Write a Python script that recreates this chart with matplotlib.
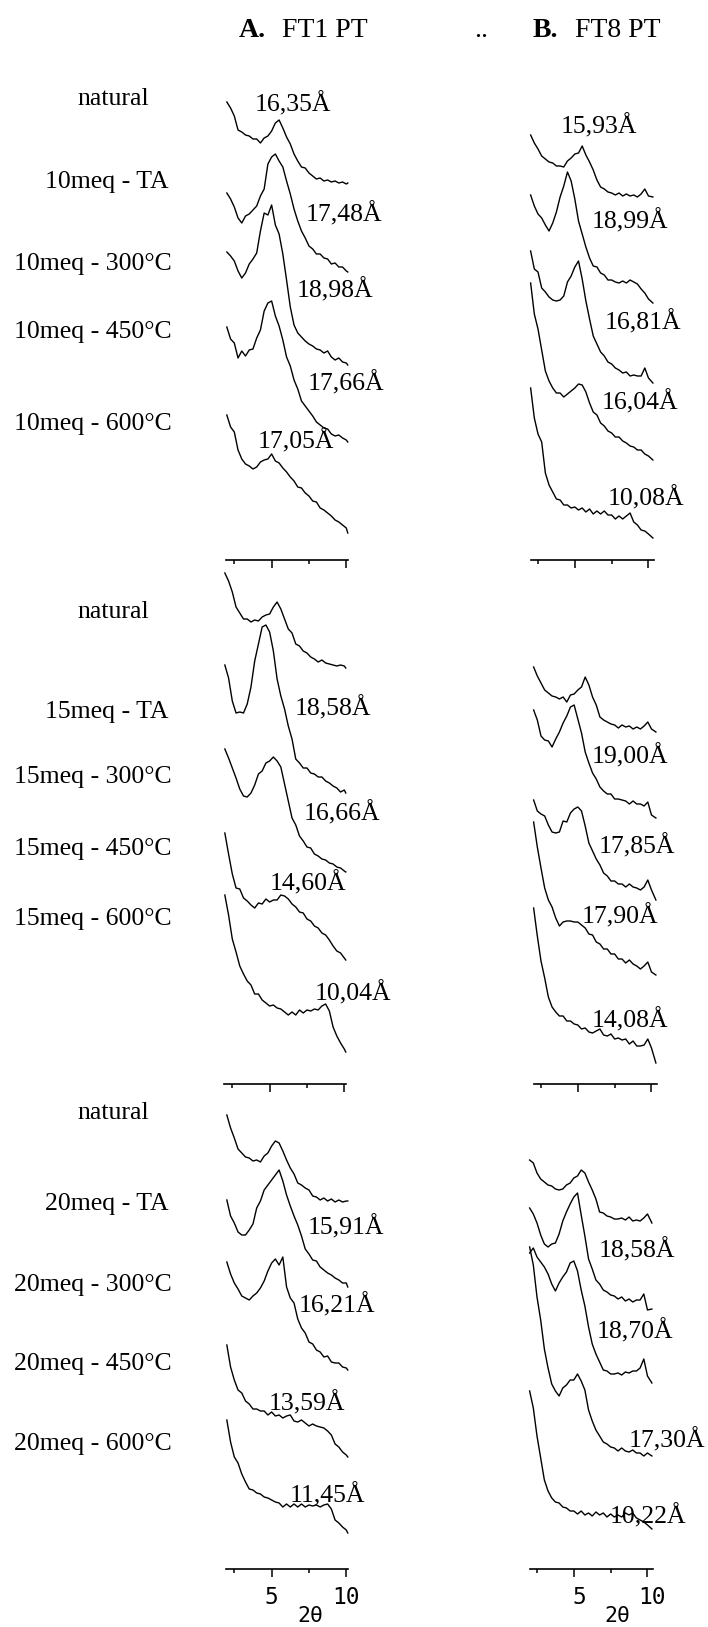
import numpy as np
import matplotlib
matplotlib.use("Agg")
import matplotlib.pyplot as plt
import matplotlib.transforms as mtransforms

# 2-theta sampling of the traced patterns (degrees)
two_theta_ft1 = [2.0, 2.25, 2.5, 2.75, 3.0, 3.25, 3.5, 3.75, 4.0, 4.25, 4.5, 4.75,
                 5.0, 5.25, 5.5, 5.75, 6.0, 6.25, 6.5, 6.75, 7.0, 7.25, 7.5, 7.75,
                 8.0, 8.25, 8.5, 8.75, 9.0, 9.25, 9.5, 9.75, 10.0, 10.1]
two_theta_ft8 = [2.0, 2.25, 2.5, 2.75, 3.0, 3.25, 3.5, 3.75, 4.0, 4.25, 4.5, 4.75,
                 5.0, 5.25, 5.5, 5.75, 6.0, 6.25, 6.5, 6.75, 7.0, 7.25, 7.5, 7.75,
                 8.0, 8.25, 8.5, 8.75, 9.0, 9.25, 9.5, 9.75, 10.0, 10.3]

# intensities (arbitrary units), FT1 PT, 10 meq
ft1_10_nat = [82, 76, 68, 54, 52, 49, 48, 45, 45, 41, 46, 48, 53, 61, 64, 56, 47, 40, 30, 23, 17, 16, 11, 8, 5, 6, 3, 4, 2, 3, 1, 2, 0, 1]
ft1_10_ta = [79, 73, 65, 54, 49, 56, 58, 62, 66, 76, 83, 108, 115, 118, 111, 105, 91, 78, 63, 51, 41, 34, 26, 23, 18, 18, 14, 13, 8, 9, 5, 5, 1, 0]
ft1_10_300 = [113, 109, 104, 94, 87, 92, 101, 106, 112, 134, 152, 150, 160, 140, 131, 111, 85, 58, 40, 32, 28, 24, 21, 19, 16, 15, 12, 14, 8, 5, 7, 3, 2, 0]
ft1_10_450 = [115, 103, 99, 84, 91, 86, 92, 93, 104, 112, 131, 139, 141, 126, 116, 102, 85, 76, 62, 53, 41, 36, 31, 26, 20, 17, 14, 13, 8, 6, 7, 4, 2, 0]
ft1_10_600 = [118, 106, 101, 83, 74, 69, 67, 64, 66, 71, 73, 74, 79, 72, 70, 65, 61, 56, 52, 46, 45, 40, 37, 32, 31, 25, 23, 20, 17, 13, 11, 8, 5, 0]

# FT8 PT, 10 meq
ft8_10_nat = [62, 54, 48, 41, 38, 35, 34, 31, 31, 30, 36, 39, 43, 44, 51, 42, 35, 27, 17, 10, 8, 5, 4, 2, 4, 1, 3, 1, 2, 0, 3, 8, 1, 0]
ft8_10_ta = [108, 97, 89, 85, 78, 72, 80, 91, 106, 117, 131, 122, 104, 82, 69, 56, 45, 37, 36, 30, 28, 23, 23, 21, 20, 22, 20, 23, 21, 19, 14, 10, 4, 0]
ft8_10_300 = [132, 114, 111, 95, 91, 86, 83, 82, 83, 87, 101, 107, 116, 122, 104, 82, 64, 47, 39, 31, 27, 21, 19, 15, 13, 10, 11, 7, 8, 7, 7, 15, 5, 0]
ft8_10_450 = [177, 146, 131, 110, 89, 79, 72, 67, 67, 63, 66, 69, 72, 76, 75, 68, 57, 48, 45, 37, 34, 29, 27, 23, 23, 19, 17, 14, 13, 10, 10, 6, 4, 0]
ft8_10_600 = [150, 120, 104, 96, 65, 53, 46, 39, 38, 33, 33, 30, 31, 28, 30, 26, 29, 24, 27, 24, 27, 23, 23, 19, 22, 19, 22, 25, 16, 13, 8, 7, 4, 0]

# FT1 PT, 15 meq
ft1_15_nat = [95, 87, 76, 61, 55, 49, 49, 46, 48, 47, 51, 53, 54, 61, 66, 59, 49, 39, 35, 24, 22, 17, 15, 11, 9, 6, 8, 5, 4, 3, 2, 3, 2, 0]
ft1_15_ta = [128, 115, 92, 80, 81, 80, 89, 106, 132, 149, 166, 168, 161, 142, 114, 97, 84, 67, 54, 34, 30, 25, 25, 20, 19, 16, 16, 12, 10, 7, 5, 1, 3, 0]
ft1_15_300 = [123, 114, 104, 94, 83, 76, 75, 79, 87, 98, 101, 109, 111, 115, 111, 105, 88, 71, 54, 47, 36, 31, 25, 24, 18, 16, 13, 12, 9, 8, 5, 4, 1, 0]
ft1_15_450 = [127, 106, 86, 72, 71, 62, 59, 55, 52, 57, 56, 61, 58, 60, 60, 65, 64, 61, 56, 53, 48, 47, 41, 39, 34, 32, 27, 25, 20, 14, 9, 7, 2, 0]
ft1_15_600 = [157, 137, 113, 100, 86, 78, 71, 67, 58, 58, 52, 49, 46, 47, 44, 43, 40, 37, 40, 37, 42, 39, 42, 41, 43, 42, 46, 48, 41, 25, 16, 9, 3, 0]

# FT8 PT, 15 meq
ft8_15_nat = [65, 56, 49, 42, 39, 36, 35, 33, 35, 30, 37, 38, 42, 45, 55, 47, 35, 27, 15, 12, 10, 8, 7, 4, 7, 5, 6, 3, 5, 3, 6, 10, 3, 0]
ft8_15_ta = [108, 98, 82, 78, 77, 71, 79, 86, 95, 102, 111, 113, 99, 85, 66, 55, 45, 39, 31, 27, 24, 24, 19, 19, 18, 17, 14, 17, 14, 14, 12, 16, 3, 0]
ft8_15_300 = [100, 89, 86, 84, 75, 68, 67, 68, 79, 78, 87, 91, 93, 89, 74, 57, 49, 41, 35, 27, 24, 19, 19, 16, 16, 13, 16, 13, 12, 10, 13, 20, 10, 0]
ft8_15_450 = [153, 128, 107, 87, 75, 68, 57, 49, 53, 54, 54, 53, 53, 50, 47, 41, 40, 33, 31, 26, 26, 21, 21, 16, 16, 12, 15, 11, 9, 6, 9, 13, 3, 0]
ft8_15_600 = [155, 127, 102, 85, 66, 56, 51, 47, 47, 42, 42, 39, 38, 34, 35, 31, 30, 32, 34, 28, 27, 29, 24, 25, 23, 24, 19, 22, 17, 17, 18, 24, 15, 0]

# FT1 PT, 20 meq
ft1_20_nat = [87, 74, 64, 53, 49, 45, 44, 41, 42, 40, 46, 49, 56, 61, 59, 51, 42, 34, 28, 19, 17, 14, 12, 6, 5, 2, 4, 1, 3, 0, 2, 0, 1, 1]
ft1_20_ta = [87, 71, 64, 55, 52, 52, 57, 63, 79, 86, 97, 102, 107, 112, 117, 106, 92, 81, 71, 62, 51, 38, 33, 27, 26, 20, 17, 14, 12, 9, 7, 4, 4, 0]
ft1_20_300 = [108, 96, 87, 81, 74, 72, 70, 74, 77, 82, 89, 99, 107, 111, 105, 113, 83, 72, 67, 51, 42, 37, 28, 26, 20, 18, 13, 14, 8, 7, 7, 3, 2, 0]
ft1_20_450 = [112, 90, 77, 67, 64, 56, 53, 48, 48, 46, 46, 42, 45, 41, 42, 39, 41, 42, 36, 35, 37, 34, 31, 33, 31, 30, 29, 26, 22, 13, 10, 5, 2, 0]
ft1_20_600 = [113, 91, 76, 70, 59, 51, 44, 43, 40, 39, 36, 35, 33, 31, 30, 26, 29, 26, 29, 26, 29, 26, 28, 27, 28, 26, 28, 29, 24, 13, 10, 6, 3, 0]

# FT8 PT, 20 meq
ft8_20_nat = [63, 60, 50, 44, 41, 38, 37, 34, 33, 34, 38, 40, 45, 47, 53, 50, 41, 33, 24, 11, 10, 7, 6, 4, 4, 5, 3, 6, 2, 3, 2, 5, 9, 0]
ft8_20_ta = [102, 96, 87, 75, 66, 63, 66, 67, 76, 89, 98, 106, 113, 117, 95, 74, 51, 41, 30, 26, 20, 18, 15, 14, 11, 13, 9, 11, 8, 10, 10, 16, 0, 1]
ft8_20_300 = [130, 135, 126, 121, 116, 109, 99, 92, 100, 106, 111, 120, 122, 112, 93, 77, 56, 39, 29, 21, 13, 12, 9, 9, 10, 8, 11, 10, 12, 12, 15, 24, 7, 0]
ft8_20_450 = [209, 191, 159, 136, 107, 88, 72, 65, 60, 68, 71, 76, 76, 82, 75, 66, 46, 35, 26, 20, 14, 12, 9, 8, 5, 8, 5, 4, 6, 3, 3, 0, 3, 0]
ft8_20_600 = [138, 121, 93, 71, 49, 38, 31, 27, 26, 22, 21, 18, 18, 15, 18, 14, 16, 13, 17, 14, 16, 12, 15, 12, 14, 12, 16, 14, 16, 11, 9, 7, 4, 0]

rows_10 = ["natural", "10meq - TA", "10meq - 300°C", "10meq - 450°C", "10meq - 600°C"]
rows_15 = ["natural", "15meq - TA", "15meq - 300°C", "15meq - 450°C", "15meq - 600°C"]
rows_20 = ["natural", "20meq - TA", "20meq - 300°C", "20meq - 450°C", "20meq - 600°C"]

d_ft1_10 = ["16,35Å", "17,48Å", "18,98Å", "17,66Å", "17,05Å"]
d_ft8_10 = ["15,93Å", "18,99Å", "16,81Å", "16,04Å", "10,08Å"]
d_ft1_15 = ["18,58Å", "16,66Å", "14,60Å", "10,04Å"]
d_ft8_15 = ["19,00Å", "17,85Å", "17,90Å", "14,08Å"]
d_ft1_20 = ["15,91Å", "16,21Å", "13,59Å", "11,45Å"]
d_ft8_20 = ["18,58Å", "18,70Å", "17,30Å", "10,22Å"]

# ---- layout (pixels of the 708 x 1627 canvas) ----
W, H = 708, 1627
SERIF = ["Liberation Serif", "DejaVu Serif"]
MONO = ["DejaVu Sans Mono"]
FS = 18.5

fig = plt.figure(figsize=(W / 100, H / 100), dpi=100)

def fx(px):
    return px / W

def fy(py):
    return 1 - py / H

panels = [
    dict(axis_y=560, shift=(0, 0),
         curves=([ft1_10_nat, ft1_10_ta, ft1_10_300, ft1_10_450, ft1_10_600],
                 [ft8_10_nat, ft8_10_ta, ft8_10_300, ft8_10_450, ft8_10_600]),
         offsets=([376, 288, 195, 118, 27], [363, 257, 177, 100, 22]),
         rows=rows_10, row_y=[105, 188, 270, 338, 430],
         dl=(d_ft1_10, d_ft8_10),
         dpos=([(293, 111), (344, 221), (335, 297), (346, 390), (296, 448)],
               [(599, 133), (630, 228), (643, 329), (640, 409), (646, 505)])),
    dict(axis_y=1084, shift=(-2, 3),
         curves=([ft1_15_nat, ft1_15_ta, ft1_15_300, ft1_15_450, ft1_15_600],
                 [ft8_15_nat, ft8_15_ta, ft8_15_300, ft8_15_450, ft8_15_600]),
         offsets=([416, 291, 212, 124, 32], [352, 266, 184, 109, 21]),
         rows=rows_15, row_y=[618, 718, 783, 855, 925],
         dl=(d_ft1_15, d_ft8_15),
         dpos=([(333, 715), (342, 820), (308, 890), (353, 1000)],
               [(630, 763), (637, 853), (620, 923), (630, 1027)])),
    dict(axis_y=1569, shift=(0, -1),
         curves=([ft1_20_nat, ft1_20_ta, ft1_20_300, ft1_20_450, ft1_20_600],
                 [ft8_20_nat, ft8_20_ta, ft8_20_300, ft8_20_450, ft8_20_600]),
         offsets=([367, 282, 199, 112, 36], [346, 259, 186, 113, 40]),
         rows=rows_20, row_y=[1119, 1210, 1291, 1370, 1450],
         dl=(d_ft1_20, d_ft8_20),
         dpos=([(346, 1234), (337, 1312), (307, 1410), (327, 1502)],
               [(637, 1257), (635, 1338), (667, 1447), (648, 1523)])),
]

cols = [dict(x=(226, 348), xlim=(1.944, 10.115), tt=two_theta_ft1, lab_dx=0),
        dict(x=(531, 654), xlim=(2.025, 10.375), tt=two_theta_ft8, lab_dx=5)]
row_x = [113, 107, 92.5, 92.5, 92.5]
AX_H = 480

for pi, p in enumerate(panels):
    for ci, c in enumerate(cols):
        x0 = c["x"][0] + p["shift"][ci]
        x1 = c["x"][1] + p["shift"][ci]
        ax = fig.add_axes([fx(x0), fy(p["axis_y"]), fx(x1 - x0), AX_H / H])
        ax.patch.set_visible(False)
        ax.set_xlim(*c["xlim"])
        ax.set_ylim(0, AX_H)
        for s in ["top", "left", "right"]:
            ax.spines[s].set_visible(False)
        ax.spines["bottom"].set_linewidth(1.2)
        ax.set_yticks([])
        ax.set_xticks([5, 10])
        ax.set_xticks([2.5, 7.5], minor=True)
        ax.tick_params(which="major", length=5.5, width=1.1, direction="out", pad=7)
        ax.tick_params(which="minor", length=2.8, width=1.1, direction="out")
        if pi < 2:
            ax.set_xticklabels([])
        else:
            ax.set_xticklabels(["5", "10"], family=MONO, fontsize=16.5)
            shift_t = mtransforms.ScaledTranslation(c["lab_dx"] / 100, 0, fig.dpi_scale_trans)
            for lab in ax.get_xticklabels():
                lab.set_transform(lab.get_transform() + shift_t)
        for y, off in zip(p["curves"][ci], p["offsets"][ci]):
            ax.plot(c["tt"], np.array(y) + off, color="black", lw=1.0, clip_on=False)
        for txt, (tx, ty) in zip(p["dl"][ci], p["dpos"][ci]):
            fig.text(fx(tx), fy(ty), txt, ha="center", va="baseline",
                     family=SERIF, fontsize=FS)
    for name, rx, ry in zip(p["rows"], row_x, p["row_y"]):
        fig.text(fx(rx), fy(ry), name, ha="center", va="baseline",
                 family=SERIF, fontsize=FS)

# column headings
fig.text(fx(239), fy(37), "A.", family=SERIF, fontsize=20, weight="bold", va="baseline")
fig.text(fx(282), fy(37), "FT1 PT", family=SERIF, fontsize=20, va="baseline")
fig.text(fx(474), fy(37), "..", family=SERIF, fontsize=20, va="baseline")
fig.text(fx(533), fy(37), "B.", family=SERIF, fontsize=20, weight="bold", va="baseline")
fig.text(fx(575), fy(37), "FT8 PT", family=SERIF, fontsize=20, va="baseline")

# x labels
for lx in (310, 617):
    fig.text(fx(lx), fy(1626), "2θ", ha="center", va="bottom", family=MONO, fontsize=15.5)

fig.savefig("out.png", dpi=100)
